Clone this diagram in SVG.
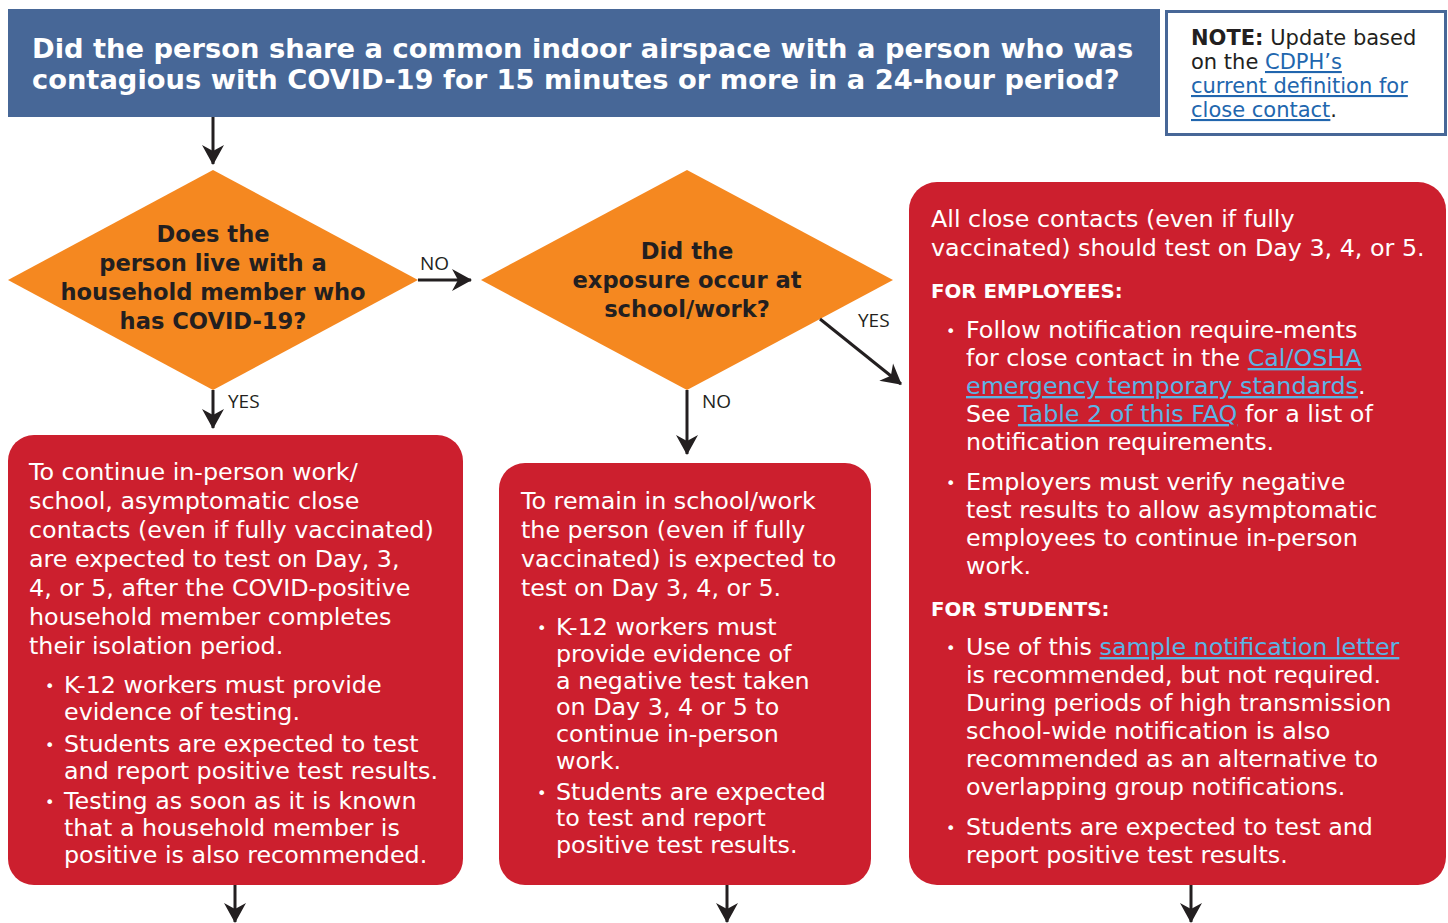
<svg xmlns="http://www.w3.org/2000/svg" width="1448" height="923" viewBox="0 0 1448 923">
<defs>
<style>
.hdr{font-family:"DejaVu Sans",sans-serif;font-weight:bold;font-size:27.3px;fill:#ffffff}
.note{font-family:"DejaVu Sans",sans-serif;font-size:21px;fill:#231f20}
.nlink{fill:#2166ae;text-decoration:underline}
.dia{font-family:"DejaVu Sans",sans-serif;font-weight:bold;font-size:22.6px;fill:#231f20;text-anchor:middle}
.body{font-family:"DejaVu Sans",sans-serif;font-size:23.8px;fill:#ffffff}
.sub{font-family:"DejaVu Sans",sans-serif;font-weight:bold;font-size:19.8px;fill:#ffffff}
.bul{font-family:"DejaVu Sans",sans-serif;font-size:16px;fill:#ffffff}
.link{fill:#5bb4e5;text-decoration:underline}
.lbl{font-family:"Open Sans",sans-serif;font-size:19px;fill:#231f20}
.red{fill:#cc1f2e}
.orange{fill:#f58820}
.conn line{stroke:#231f20;stroke-width:3;fill:none;marker-end:url(#ah)}
</style>
<marker id="ah" markerUnits="userSpaceOnUse" markerWidth="20" markerHeight="24" viewBox="0 0 20 24" refX="19" refY="12" orient="auto">
<path d="M0,1 L20,12 L0,23 L6,12 Z" fill="#231f20"/>
</marker>
</defs>
<rect width="1448" height="923" fill="#ffffff"/>

<g id="header">
<rect x="8" y="9" width="1152" height="108" fill="#476797"/>
<text class="hdr" x="32" y="58">Did the person share a common indoor airspace with a person who was</text>
<text class="hdr" x="32" y="89">contagious with COVID-19 for 15 minutes or more in a 24-hour period?</text>
</g>

<g id="note">
<rect x="1166.5" y="11.5" width="279" height="123" fill="#ffffff" stroke="#476797" stroke-width="3"/>
<text class="note" x="1191" y="45"><tspan font-weight="bold">NOTE:</tspan> Update based</text>
<text class="note" x="1191" y="69">on the <tspan class="nlink">CDPH’s </tspan></text>
<text class="note" x="1191" y="93"><tspan class="nlink">current definition for</tspan></text>
<text class="note" x="1191" y="117"><tspan class="nlink">close contact</tspan>.</text>
</g>

<g id="diamond1">
<polygon class="orange" points="213,170 418,280 213,390 8,280"/>
<text class="dia" x="213" y="242">Does the</text>
<text class="dia" x="213" y="271">person live with a</text>
<text class="dia" x="213" y="300">household member who</text>
<text class="dia" x="213" y="329">has COVID-19?</text>
</g>

<g id="diamond2">
<polygon class="orange" points="687,170 893,280 687,390 481,280"/>
<text class="dia" x="687" y="259">Did the</text>
<text class="dia" x="687" y="288">exposure occur at</text>
<text class="dia" x="687" y="317">school/work?</text>
</g>

<g id="box1">
<rect class="red" x="8" y="435" width="455" height="450" rx="26"/>
<text class="body" x="29" y="480">To continue in-person work/</text>
<text class="body" x="29" y="509">school, asymptomatic close</text>
<text class="body" x="29" y="538">contacts (even if fully vaccinated)</text>
<text class="body" x="29" y="567">are expected to test on Day, 3,</text>
<text class="body" x="29" y="596">4, or 5, after the COVID-positive</text>
<text class="body" x="29" y="625">household member completes</text>
<text class="body" x="29" y="654">their isolation period.</text>
<text class="bul" x="45" y="692">•</text>
<text class="body" x="64" y="693">K-12 workers must provide</text>
<text class="body" x="64" y="720">evidence of testing.</text>
<text class="bul" x="45" y="751">•</text>
<text class="body" x="64" y="752">Students are expected to test</text>
<text class="body" x="64" y="779">and report positive test results.</text>
<text class="bul" x="45" y="808">•</text>
<text class="body" x="64" y="809">Testing as soon as it is known</text>
<text class="body" x="64" y="836">that a household member is</text>
<text class="body" x="64" y="863">positive is also recommended.</text>
</g>

<g id="box2">
<rect class="red" x="499" y="463" width="372" height="422" rx="26"/>
<text class="body" x="521" y="509">To remain in school/work</text>
<text class="body" x="521" y="538">the person (even if fully</text>
<text class="body" x="521" y="567">vaccinated) is expected to</text>
<text class="body" x="521" y="596">test on Day 3, 4, or 5.</text>
<text class="bul" x="537" y="634">•</text>
<text class="body" x="556" y="635">K-12 workers must</text>
<text class="body" x="556" y="662">provide evidence of</text>
<text class="body" x="556" y="689">a negative test taken</text>
<text class="body" x="556" y="715">on Day 3, 4 or 5 to</text>
<text class="body" x="556" y="742">continue in-person</text>
<text class="body" x="556" y="769">work.</text>
<text class="bul" x="537" y="799">•</text>
<text class="body" x="556" y="800">Students are expected</text>
<text class="body" x="556" y="826">to test and report</text>
<text class="body" x="556" y="853">positive test results.</text>
</g>

<g id="box3">
<rect class="red" x="909" y="182" width="537" height="703" rx="28"/>
<text class="body" x="931" y="227">All close contacts (even if fully</text>
<text class="body" x="931" y="256">vaccinated) should test on Day 3, 4, or 5.</text>
<text class="sub" x="931" y="298">FOR EMPLOYEES:</text>
<text class="bul" x="946" y="337">•</text>
<text class="body" x="966" y="338">Follow notification require-ments</text>
<text class="body" x="966" y="366">for close contact in the <tspan class="link">Cal/OSHA </tspan></text>
<text class="body" x="966" y="394"><tspan class="link">emergency temporary standards</tspan>.</text>
<text class="body" x="966" y="422">See <tspan class="link">Table 2 of this FAQ</tspan> for a list of</text>
<text class="body" x="966" y="450">notification requirements.</text>
<text class="bul" x="946" y="489">•</text>
<text class="body" x="966" y="490">Employers must verify negative</text>
<text class="body" x="966" y="518">test results to allow asymptomatic</text>
<text class="body" x="966" y="546">employees to continue in-person</text>
<text class="body" x="966" y="574">work.</text>
<text class="sub" x="931" y="616">FOR STUDENTS:</text>
<text class="bul" x="946" y="654">•</text>
<text class="body" x="966" y="655">Use of this <tspan class="link">sample notification letter</tspan></text>
<text class="body" x="966" y="683">is recommended, but not required.</text>
<text class="body" x="966" y="711">During periods of high transmission</text>
<text class="body" x="966" y="739">school-wide notification is also</text>
<text class="body" x="966" y="767">recommended as an alternative to</text>
<text class="body" x="966" y="795">overlapping group notifications.</text>
<text class="bul" x="946" y="834">•</text>
<text class="body" x="966" y="835">Students are expected to test and</text>
<text class="body" x="966" y="863">report positive test results.</text>
</g>

<g id="connectors" class="conn">
<line x1="213" y1="117" x2="213" y2="164"/>
<line x1="418" y1="280" x2="471" y2="280"/>
<line x1="213" y1="390" x2="213" y2="428"/>
<line x1="687" y1="390" x2="687" y2="454"/>
<line x1="820" y1="319" x2="901" y2="384"/>
<line x1="235" y1="885" x2="235" y2="922"/>
<line x1="727" y1="885" x2="727" y2="922"/>
<line x1="1191" y1="885" x2="1191" y2="922"/>
<text class="lbl" x="420" y="270">NO</text>
<text class="lbl" x="228" y="408">YES</text>
<text class="lbl" x="702" y="408">NO</text>
<text class="lbl" x="858" y="327">YES</text>
</g>
</svg>
